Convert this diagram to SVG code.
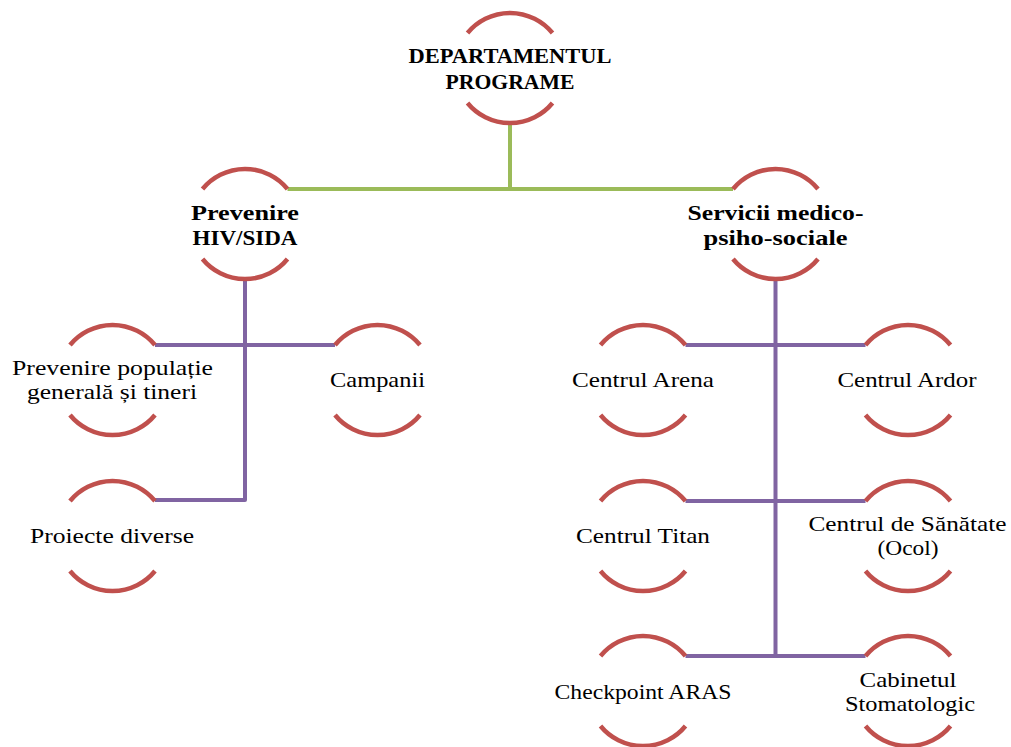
<svg xmlns="http://www.w3.org/2000/svg" xmlns:xlink="http://www.w3.org/1999/xlink" width="1011" height="747" viewBox="0 0 1011 747">
<style>
.arc{fill:none;stroke:#C0504D;stroke-width:4.5}
.g{fill:none;stroke:#9BBB59;stroke-width:4}
.p{fill:none;stroke:#8064A2;stroke-width:4;stroke-linejoin:round}
text{font-family:"Liberation Serif","Times New Roman",serif;font-size:22px;fill:#000;text-anchor:middle}
.b{font-weight:bold}
</style>
<defs>
<path id="ring" d="M-42.5,-35 A55,55 0 0 1 42.5,-35 M-42.5,35 A55,55 0 0 0 42.5,35"/>
</defs>
<rect width="1011" height="747" fill="#fff"/>
<g id="connectors">
<path class="g" d="M510,123 V189 M287.5,189 H733"/>
<path class="p" d="M245,279 V500 H155 M155,345 H335"/>
<path class="p" d="M775.5,279 V656 M685.5,345 H865.5 M685.5,501 H865.5 M685.5,656 H865.5"/>
</g>
<g id="n-dep"><use href="#ring" class="arc" transform="translate(510,68)"/>
<text class="b" x="510" y="63" textLength="203" lengthAdjust="spacingAndGlyphs">DEPARTAMENTUL</text>
<text class="b" x="510" y="89" textLength="129" lengthAdjust="spacingAndGlyphs">PROGRAME</text></g>
<g id="n-prev"><use href="#ring" class="arc" transform="translate(245,224)"/>
<text class="b" x="245" y="220" textLength="108" lengthAdjust="spacingAndGlyphs">Prevenire</text>
<text class="b" x="245" y="245" textLength="105" lengthAdjust="spacingAndGlyphs">HIV/SIDA</text></g>
<g id="n-serv"><use href="#ring" class="arc" transform="translate(775.5,224)"/>
<text class="b" x="775.5" y="220" textLength="176" lengthAdjust="spacingAndGlyphs">Servicii medico-</text>
<text class="b" x="775.5" y="245" textLength="144" lengthAdjust="spacingAndGlyphs">psiho-sociale</text></g>
<g id="n-pop"><use href="#ring" class="arc" transform="translate(112.5,380)"/>
<text x="112.5" y="375" textLength="201" lengthAdjust="spacingAndGlyphs">Prevenire populație</text>
<text x="112" y="399" textLength="170" lengthAdjust="spacingAndGlyphs">generală și tineri</text></g>
<g id="n-camp"><use href="#ring" class="arc" transform="translate(377.5,380)"/>
<text x="377.5" y="387" textLength="95" lengthAdjust="spacingAndGlyphs">Campanii</text></g>
<g id="n-proi"><use href="#ring" class="arc" transform="translate(112.5,536)"/>
<text x="112" y="543" textLength="164" lengthAdjust="spacingAndGlyphs">Proiecte diverse</text></g>
<g id="n-arena"><use href="#ring" class="arc" transform="translate(643,380)"/>
<text x="643" y="387" textLength="142" lengthAdjust="spacingAndGlyphs">Centrul Arena</text></g>
<g id="n-ardor"><use href="#ring" class="arc" transform="translate(908,380)"/>
<text x="907" y="387" textLength="139" lengthAdjust="spacingAndGlyphs">Centrul Ardor</text></g>
<g id="n-titan"><use href="#ring" class="arc" transform="translate(643,536)"/>
<text x="643" y="543" textLength="134" lengthAdjust="spacingAndGlyphs">Centrul Titan</text></g>
<g id="n-ocol"><use href="#ring" class="arc" transform="translate(908,536)"/>
<text x="907.5" y="531" textLength="198" lengthAdjust="spacingAndGlyphs">Centrul de Sănătate</text>
<text x="908" y="555" textLength="61" lengthAdjust="spacingAndGlyphs">(Ocol)</text></g>
<g id="n-check"><use href="#ring" class="arc" transform="translate(643,691)"/>
<text x="643" y="699" textLength="177" lengthAdjust="spacingAndGlyphs">Checkpoint ARAS</text></g>
<g id="n-cab"><use href="#ring" class="arc" transform="translate(908,691)"/>
<text x="908" y="687" textLength="97" lengthAdjust="spacingAndGlyphs">Cabinetul</text>
<text x="910" y="711" textLength="130" lengthAdjust="spacingAndGlyphs">Stomatologic</text></g>
</svg>
